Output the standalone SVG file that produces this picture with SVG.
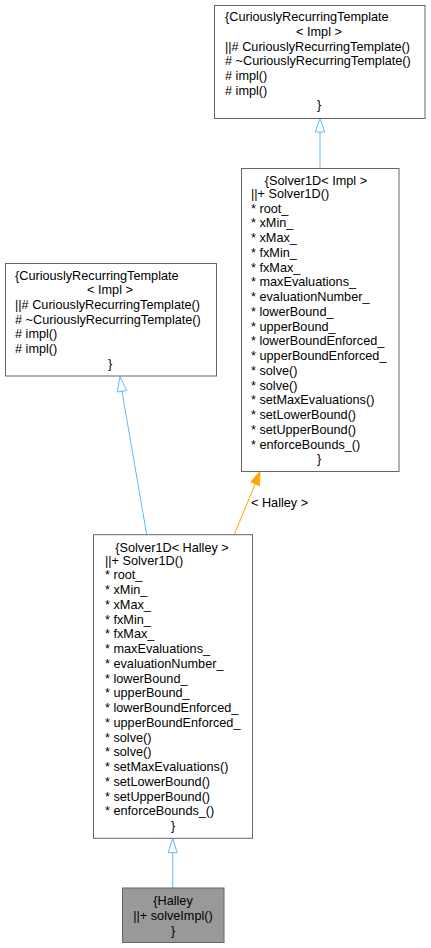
<svg xmlns="http://www.w3.org/2000/svg" width="431" height="948" viewBox="0 0 431 948">
<style>
.box{fill:#ffffff;stroke:#666666;stroke-width:1}
.sel{fill:#999999;stroke:#666666;stroke-width:1}
text{font-family:"Liberation Sans",Arial,sans-serif;font-size:12.7px;fill:#000000}
.c{text-anchor:middle}
.e{fill:none;stroke:#63b8ff;stroke-width:1}
.o{fill:none;stroke:#ffa500;stroke-width:1}
.hh{fill:#ffffff;stroke:#63b8ff;stroke-width:1}
.oh{fill:#ffa500;stroke:#ffa500;stroke-width:1}
</style>
<rect width="431" height="948" fill="#ffffff"/>
<g id="edges">
<line class="e" x1="320" y1="132" x2="320" y2="168"/>
<polygon class="hh" points="320,118.5 315.3,132 324.7,132"/>
<line class="e" x1="122" y1="391.5" x2="146.7" y2="534.7"/>
<polygon class="hh" points="120,376.5 117.3,392 126.7,390.5"/>
<line class="o" x1="255.2" y1="483.7" x2="234.3" y2="534.7"/>
<polygon class="oh" points="260,471.5 251,481.7 259.3,485.7"/>
<text x="251" y="507">&lt; Halley &gt;</text>
<line class="e" x1="172.7" y1="852.7" x2="172.7" y2="888"/>
<polygon class="hh" points="172.7,838.5 168.2,852.7 177.2,852.7"/>
</g>
<g id="crt_top">
<rect class="box" x="214.5" y="5.5" width="210.5" height="113"/>
<text x="225" y="21.2">{CuriouslyRecurringTemplate</text>
<text class="c" x="319" y="35.9">&lt; Impl &gt;</text>
<text x="225" y="50.6">||# CuriouslyRecurringTemplate()</text>
<text x="225" y="65.3"># ~CuriouslyRecurringTemplate()</text>
<text x="225" y="80"># impl()</text>
<text x="225" y="94.7"># impl()</text>
<text class="c" x="319" y="109.4">}</text>
</g>
<g id="crt_left">
<rect class="box" x="5.5" y="263.5" width="211" height="112.5"/>
<text x="15" y="279.5">{CuriouslyRecurringTemplate</text>
<text class="c" x="110" y="294.2">&lt; Impl &gt;</text>
<text x="15" y="308.9">||# CuriouslyRecurringTemplate()</text>
<text x="15" y="323.6"># ~CuriouslyRecurringTemplate()</text>
<text x="15" y="338.3"># impl()</text>
<text x="15" y="353"># impl()</text>
<text class="c" x="110" y="367.7">}</text>
</g>
<g id="solver_impl">
<rect class="box" x="241.5" y="168.5" width="157.5" height="303"/>
<text class="c" x="316" y="185">{Solver1D&lt; Impl &gt;</text>
<text x="251" y="197.8">||+ Solver1D()</text>
<text x="251" y="212.55">* root_</text>
<text x="251" y="227.3">* xMin_</text>
<text x="251" y="242.05">* xMax_</text>
<text x="251" y="256.8">* fxMin_</text>
<text x="251" y="271.55">* fxMax_</text>
<text x="251" y="286.3">* maxEvaluations_</text>
<text x="251" y="301.05">* evaluationNumber_</text>
<text x="251" y="315.8">* lowerBound_</text>
<text x="251" y="330.55">* upperBound_</text>
<text x="251" y="345.3">* lowerBoundEnforced_</text>
<text x="251" y="360.05">* upperBoundEnforced_</text>
<text x="251" y="374.8">* solve()</text>
<text x="251" y="389.55">* solve()</text>
<text x="251" y="404.3">* setMaxEvaluations()</text>
<text x="251" y="419.05">* setLowerBound()</text>
<text x="251" y="433.8">* setUpperBound()</text>
<text x="251" y="448.55">* enforceBounds_()</text>
<text class="c" x="319" y="463.3">}</text>
</g>
<g id="solver_halley">
<rect class="box" x="93.5" y="534.7" width="159" height="303.6"/>
<text class="c" x="172" y="551.8">{Solver1D&lt; Halley &gt;</text>
<text x="105" y="564.5">||+ Solver1D()</text>
<text x="105" y="579.25">* root_</text>
<text x="105" y="594">* xMin_</text>
<text x="105" y="608.75">* xMax_</text>
<text x="105" y="623.5">* fxMin_</text>
<text x="105" y="638.25">* fxMax_</text>
<text x="105" y="653">* maxEvaluations_</text>
<text x="105" y="667.75">* evaluationNumber_</text>
<text x="105" y="682.5">* lowerBound_</text>
<text x="105" y="697.25">* upperBound_</text>
<text x="105" y="712">* lowerBoundEnforced_</text>
<text x="105" y="726.75">* upperBoundEnforced_</text>
<text x="105" y="741.5">* solve()</text>
<text x="105" y="756.25">* solve()</text>
<text x="105" y="771">* setMaxEvaluations()</text>
<text x="105" y="785.75">* setLowerBound()</text>
<text x="105" y="800.5">* setUpperBound()</text>
<text x="105" y="815.25">* enforceBounds_()</text>
<text class="c" x="173" y="830">}</text>
</g>
<g id="halley">
<rect class="sel" x="122.5" y="888" width="101.5" height="54.5"/>
<text class="c" x="173" y="904.5">{Halley</text>
<text class="c" x="173" y="919.5">||+ solveImpl()</text>
<text class="c" x="173" y="934.5">}</text>
</g>
</svg>
